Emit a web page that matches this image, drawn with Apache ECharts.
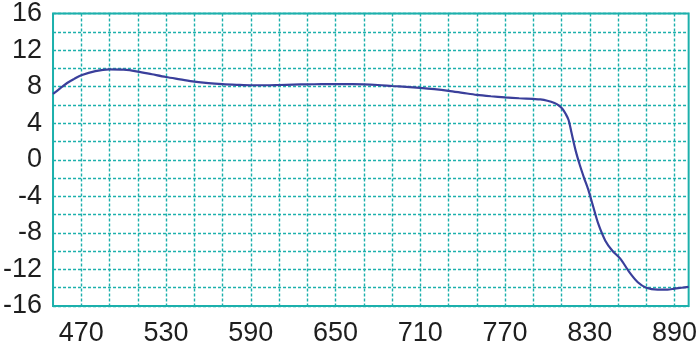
<!DOCTYPE html>
<html>
<head>
<meta charset="utf-8">
<script src="https://cdn.jsdelivr.net/npm/echarts@6/dist/echarts.min.js"></script>
<style>html,body{margin:0;padding:0;background:#fff}#c{width:700px;height:347px}</style>
</head>
<body>
<div id="c"></div>
<script>
var xValues = [450,455,460,465,470,480,490,500,510,520,530,540,550,560,570,580,590,600,610,620,630,640,650,660,670,680,690,700,710,720,730,740,750,760,770,780,790,795,800,805,808,811,813,815,817,820,823,826,829,832,836,841,846,852,858,864,870,878,885,890,895,900];
var yValues = [7.2,7.8,8.4,8.85,9.25,9.7,9.88,9.85,9.65,9.35,9.05,8.8,8.55,8.38,8.27,8.2,8.15,8.15,8.18,8.22,8.25,8.27,8.28,8.27,8.25,8.18,8.07,7.97,7.86,7.72,7.54,7.32,7.1,6.95,6.83,6.73,6.65,6.6,6.45,6.2,5.95,5.5,5.0,4.35,3.0,1.0,-0.6,-2.0,-3.3,-4.9,-7.0,-8.85,-9.95,-10.9,-12.3,-13.4,-14.0,-14.2,-14.2,-14.1,-14.0,-13.9];
var xGridTicks = [470,490,510,530,550,570,590,610,630,650,670,690,710,730,750,770,790,810,830,850,870,890];
var xTickLabels = [470,530,590,650,710,770,830,890];
var yTickLabels = [-16,-12,-8,-4,0,4,8,12,16];

var teal = '#1cb0ac';
var chart = echarts.init(document.getElementById('c'));
var data = xValues.map(function(x, i){ return [x, yValues[i]]; });
chart.setOption({
  animation: false,
  grid: {left: 51, right: 9, top: 7, bottom: 35, show: true, borderColor: teal, borderWidth: 2, backgroundColor: 'transparent'},
  xAxis: {
    type: 'value', min: 450, max: 900,
    axisLine: {show: false},
    axisTick: {show: false, customValues: xGridTicks},
    axisLabel: {customValues: xTickLabels, color: '#1e1e1e', fontSize: 27, fontFamily: 'Liberation Sans, Arial, sans-serif', margin: 14},
    splitLine: {show: true, lineStyle: {color: teal, type: [3, 2], width: 1.4}}
  },
  yAxis: {
    type: 'value', min: -16, max: 16, interval: 2,
    axisLine: {show: false},
    axisTick: {show: false},
    axisLabel: {
      color: '#1e1e1e', fontSize: 27, fontFamily: 'Liberation Sans, Arial, sans-serif', margin: 11,
      formatter: function(v){ return yTickLabels.indexOf(v) >= 0 ? String(v) : ''; }
    },
    splitLine: {show: true, lineStyle: {color: teal, type: [3, 2], width: 1.4}}
  },
  series: [{
    type: 'line', data: data, smooth: 0.3, showSymbol: false,
    lineStyle: {color: '#3a3f9b', width: 2.2}
  }]
});
</script>
</body>
</html>
